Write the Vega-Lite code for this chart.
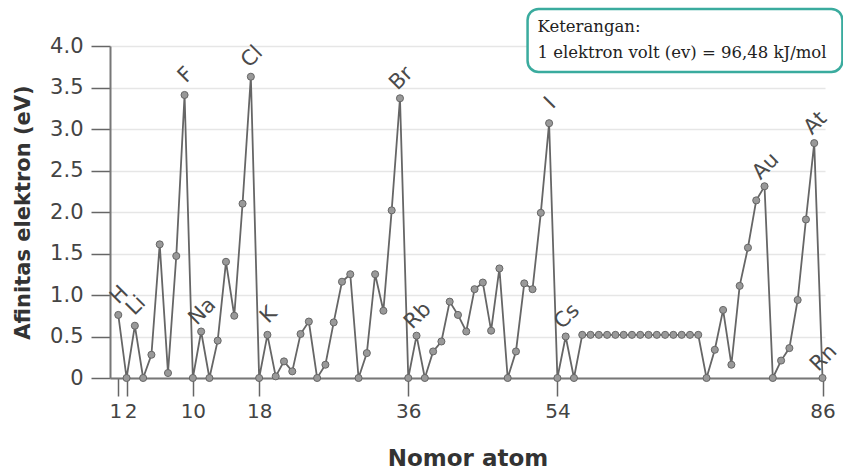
{
  "$schema": "https://vega.github.io/schema/vega-lite/v6.json",
  "width": 715,
  "height": 332,
  "autosize": {"type": "none"},
  "padding": {"left": 110, "top": 46, "right": 18, "bottom": 92},
  "background": "white",
  "config": {"view": {"stroke": null}},
  "datasets": {
    "ea": [
      {"n": 1, "e": 0.76, "label": "H"},
      {"n": 2, "e": 0, "label": ""},
      {"n": 3, "e": 0.63, "label": "Li"},
      {"n": 4, "e": 0, "label": ""},
      {"n": 5, "e": 0.28, "label": ""},
      {"n": 6, "e": 1.61, "label": ""},
      {"n": 7, "e": 0.06, "label": ""},
      {"n": 8, "e": 1.47, "label": ""},
      {"n": 9, "e": 3.41, "label": "F"},
      {"n": 10, "e": 0, "label": ""},
      {"n": 11, "e": 0.56, "label": "Na"},
      {"n": 12, "e": 0, "label": ""},
      {"n": 13, "e": 0.45, "label": ""},
      {"n": 14, "e": 1.40, "label": ""},
      {"n": 15, "e": 0.75, "label": ""},
      {"n": 16, "e": 2.10, "label": ""},
      {"n": 17, "e": 3.63, "label": "Cl"},
      {"n": 18, "e": 0, "label": ""},
      {"n": 19, "e": 0.52, "label": "K"},
      {"n": 20, "e": 0.02, "label": ""},
      {"n": 21, "e": 0.20, "label": ""},
      {"n": 22, "e": 0.08, "label": ""},
      {"n": 23, "e": 0.53, "label": ""},
      {"n": 24, "e": 0.68, "label": ""},
      {"n": 25, "e": 0, "label": ""},
      {"n": 26, "e": 0.16, "label": ""},
      {"n": 27, "e": 0.67, "label": ""},
      {"n": 28, "e": 1.16, "label": ""},
      {"n": 29, "e": 1.25, "label": ""},
      {"n": 30, "e": 0, "label": ""},
      {"n": 31, "e": 0.30, "label": ""},
      {"n": 32, "e": 1.25, "label": ""},
      {"n": 33, "e": 0.81, "label": ""},
      {"n": 34, "e": 2.02, "label": ""},
      {"n": 35, "e": 3.37, "label": "Br"},
      {"n": 36, "e": 0, "label": ""},
      {"n": 37, "e": 0.51, "label": "Rb"},
      {"n": 38, "e": 0, "label": ""},
      {"n": 39, "e": 0.32, "label": ""},
      {"n": 40, "e": 0.44, "label": ""},
      {"n": 41, "e": 0.92, "label": ""},
      {"n": 42, "e": 0.76, "label": ""},
      {"n": 43, "e": 0.56, "label": ""},
      {"n": 44, "e": 1.07, "label": ""},
      {"n": 45, "e": 1.15, "label": ""},
      {"n": 46, "e": 0.57, "label": ""},
      {"n": 47, "e": 1.32, "label": ""},
      {"n": 48, "e": 0, "label": ""},
      {"n": 49, "e": 0.32, "label": ""},
      {"n": 50, "e": 1.14, "label": ""},
      {"n": 51, "e": 1.07, "label": ""},
      {"n": 52, "e": 1.99, "label": ""},
      {"n": 53, "e": 3.07, "label": "I"},
      {"n": 54, "e": 0, "label": ""},
      {"n": 55, "e": 0.50, "label": "Cs"},
      {"n": 56, "e": 0, "label": ""},
      {"n": 57, "e": 0.52, "label": ""},
      {"n": 58, "e": 0.52, "label": ""},
      {"n": 59, "e": 0.52, "label": ""},
      {"n": 60, "e": 0.52, "label": ""},
      {"n": 61, "e": 0.52, "label": ""},
      {"n": 62, "e": 0.52, "label": ""},
      {"n": 63, "e": 0.52, "label": ""},
      {"n": 64, "e": 0.52, "label": ""},
      {"n": 65, "e": 0.52, "label": ""},
      {"n": 66, "e": 0.52, "label": ""},
      {"n": 67, "e": 0.52, "label": ""},
      {"n": 68, "e": 0.52, "label": ""},
      {"n": 69, "e": 0.52, "label": ""},
      {"n": 70, "e": 0.52, "label": ""},
      {"n": 71, "e": 0.52, "label": ""},
      {"n": 72, "e": 0, "label": ""},
      {"n": 73, "e": 0.34, "label": ""},
      {"n": 74, "e": 0.82, "label": ""},
      {"n": 75, "e": 0.16, "label": ""},
      {"n": 76, "e": 1.11, "label": ""},
      {"n": 77, "e": 1.57, "label": ""},
      {"n": 78, "e": 2.14, "label": ""},
      {"n": 79, "e": 2.31, "label": "Au"},
      {"n": 80, "e": 0, "label": ""},
      {"n": 81, "e": 0.21, "label": ""},
      {"n": 82, "e": 0.36, "label": ""},
      {"n": 83, "e": 0.94, "label": ""},
      {"n": 84, "e": 1.91, "label": ""},
      {"n": 85, "e": 2.83, "label": "At"},
      {"n": 86, "e": 0, "label": "Rn"}
    ],
    "box": [{"bx1": 50.4, "bx2": 88.4, "by1": 4.446, "by2": 3.687}],
    "note": [
      {"tx": 51.6, "ty": 4.165, "t": "Keterangan:"},
      {"tx": 51.6, "ty": 3.85, "t": "1 elektron volt (ev) = 96,48 kJ/mol"}
    ]
  },
  "layer": [
    {
      "data": {"name": "ea"},
      "mark": {"type": "line", "color": "#666666", "strokeWidth": 1.8},
      "encoding": {
        "x": {
          "field": "n", "type": "quantitative",
          "scale": {"domain": [0, 86.3], "nice": false, "zero": false},
          "axis": {
            "title": "Nomor atom",
            "values": [1, 2, 10, 18, 36, 54, 86],
            "grid": false,
            "domainColor": "#777777", "domainWidth": 2,
            "tickColor": "#666666", "tickWidth": 1.5, "tickSize": 18,
            "labelFont": "DejaVu Sans", "labelFontSize": 20, "labelColor": "#444444",
            "labelPadding": 5, "labelOverlap": false, "labelFlush": false,
            "labelOffset": {"condition": [{"test": "datum.value == 1", "value": -3}, {"test": "datum.value == 2", "value": 4}], "value": 0},
            "titleFont": "DejaVu Sans", "titleFontSize": 23, "titleFontWeight": "bold", "titleColor": "#333333",
            "titlePadding": 26
          }
        },
        "y": {
          "field": "e", "type": "quantitative",
          "scale": {"domain": [0, 4], "nice": false, "zero": true},
          "axis": {
            "title": "Afinitas elektron (eV)",
            "values": [0, 0.5, 1, 1.5, 2, 2.5, 3, 3.5, 4],
            "labelExpr": "datum.value == 0 ? '0' : format(datum.value, '.1f')",
            "grid": true, "gridColor": "#e6e6e6", "gridWidth": 1.5,
            "domainColor": "#777777", "domainWidth": 2,
            "tickColor": "#666666", "tickWidth": 1.5, "tickSize": 19,
            "labelFont": "DejaVu Sans", "labelFontSize": 21, "labelColor": "#444444",
            "labelPadding": 8,
            "titleFont": "DejaVu Sans", "titleFontSize": 21, "titleFontWeight": "bold", "titleColor": "#333333",
            "titlePadding": 16
          }
        }
      }
    },
    {
      "data": {"name": "ea"},
      "mark": {"type": "point", "filled": true, "size": 50, "fill": "#999999", "stroke": "#666666", "strokeWidth": 1, "opacity": 1},
      "encoding": {
        "x": {"field": "n", "type": "quantitative"},
        "y": {"field": "e", "type": "quantitative"}
      }
    },
    {
      "data": {"name": "ea"},
      "transform": [{"filter": "datum.label != ''"}],
      "mark": {"type": "text", "angle": -45, "align": "center", "baseline": "middle", "dx": 15, "dy": -13, "font": "DejaVu Sans", "fontSize": 21, "color": "#4a4a4a"},
      "encoding": {
        "x": {"field": "n", "type": "quantitative"},
        "y": {"field": "e", "type": "quantitative"},
        "text": {"field": "label"}
      }
    },
    {
      "data": {"name": "box"},
      "mark": {"type": "rect", "fill": "white", "stroke": "#3aab9e", "strokeWidth": 2.5, "cornerRadius": 11},
      "encoding": {
        "x": {"field": "bx1", "type": "quantitative"},
        "x2": {"field": "bx2"},
        "y": {"field": "by1", "type": "quantitative"},
        "y2": {"field": "by2"}
      }
    },
    {
      "data": {"name": "note"},
      "mark": {"type": "text", "align": "left", "baseline": "alphabetic", "font": "DejaVu Serif", "fontSize": 16.5, "color": "#222222"},
      "encoding": {
        "x": {"field": "tx", "type": "quantitative"},
        "y": {"field": "ty", "type": "quantitative"},
        "text": {"field": "t"}
      }
    }
  ]
}
